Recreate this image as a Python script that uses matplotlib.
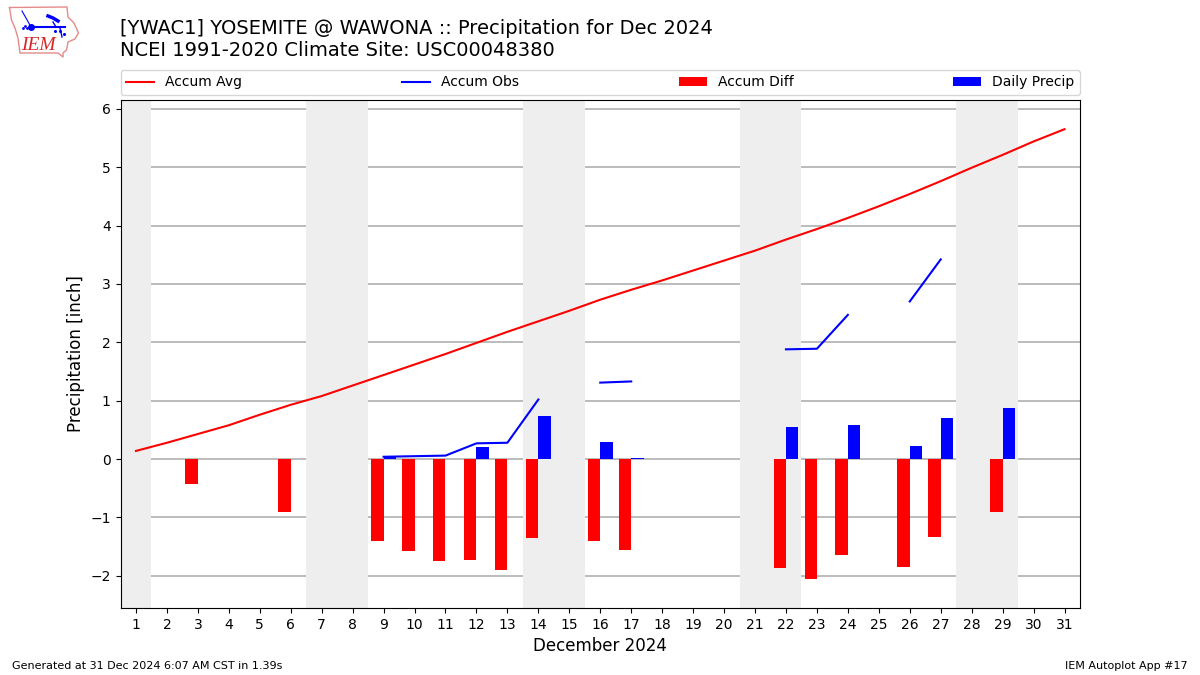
import numpy as np
import matplotlib
matplotlib.use("Agg")
import matplotlib.pyplot as plt

days = np.arange(1, 32)
nan = np.nan
accum_avg = [0.14, 0.28, 0.43, 0.58, 0.76, 0.93, 1.08, 1.26, 1.44, 1.62, 1.80,
             1.99, 2.18, 2.36, 2.54, 2.73, 2.90, 3.06, 3.23, 3.40, 3.57, 3.76,
             3.94, 4.13, 4.33, 4.54, 4.76, 4.99, 5.21, 5.44, 5.65]
accum_obs = [nan, nan, 0.00, nan, nan, 0.02, nan, nan, 0.04, 0.05, 0.06,
             0.27, 0.28, 1.02, nan, 1.31, 1.33, nan, nan, nan, nan, 1.88,
             1.89, 2.47, nan, 2.70, 3.42, nan, 4.30, nan, nan]
accum_diff = [nan, nan, -0.43, nan, nan, -0.91, nan, nan, -1.40, -1.58, -1.75,
              -1.73, -1.90, -1.35, nan, -1.41, -1.56, nan, nan, nan, nan, -1.87,
              -2.05, -1.65, nan, -1.84, -1.34, nan, -0.91, nan, nan]
daily_precip = [nan, nan, 0.01, nan, nan, 0.01, nan, nan, 0.04, 0.01, 0.01,
                0.21, 0.01, 0.73, nan, 0.30, 0.02, nan, nan, nan, nan, 0.55,
                0.01, 0.58, nan, 0.22, 0.71, nan, 0.88, nan, nan]
weekends = [(0.5, 1.5), (6.5, 8.5), (13.5, 15.5), (20.5, 22.5), (27.5, 29.5)]

W, H = 1200, 675
fig = plt.figure(figsize=(12, 6.75), dpi=100)
ax = fig.add_axes([120.5 / W, 1 - 608 / H, 959.5 / W, 508 / H])

for start, end in weekends:
    ax.axvspan(start, end, color="#eeeeee", lw=0, zorder=1)

ax.plot(days, accum_avg, color="r", label="Accum Avg", zorder=3)
ax.plot(days, accum_obs, color="b", label="Accum Obs", zorder=3)
ax.bar(days, accum_diff, width=-0.4, align="edge", color="r", label="Accum Diff", zorder=3)
ax.bar(days, daily_precip, width=0.4, align="edge", color="b", label="Daily Precip", zorder=3)

ax.set_xlim(0.5, 31.5)
ax.set_ylim(-2.55, 6.15)
ax.set_xticks(days)
ax.set_yticks(range(-2, 7))
ax.set_axisbelow(True)
ax.grid(axis="y", color="#b0b0b0", lw=1.2, zorder=2)
ax.set_xlabel("December 2024", fontsize=12)
ax.set_ylabel("Precipitation [inch]", fontsize=12)

ax.legend(loc="lower left", bbox_to_anchor=(0, 1.01, 1, 0.05), mode="expand",
          ncol=4, borderaxespad=0, fontsize=10)

fig.text(120 / W, 1 - 29 / H, "[YWAC1] YOSEMITE @ WAWONA :: Precipitation for Dec 2024",
         fontsize=14, va="center")
fig.text(120 / W, 1 - 51 / H, "NCEI 1991-2020 Climate Site: USC00048380",
         fontsize=14, va="center")
fig.text(12 / W, 1 - 666 / H, "Generated at 31 Dec 2024 6:07 AM CST in 1.39s",
         fontsize=8, va="center")
fig.text(1188 / W, 1 - 666 / H, "IEM Autoplot App #17", fontsize=8, va="center", ha="right")

# logo, drawn in pixels
logo = fig.add_axes([0, 1 - 60 / H, 90 / W, 60 / H])
logo.set_xlim(0, 90)
logo.set_ylim(60, 0)
logo.axis("off")
outline_x = [9.5, 67, 68, 74, 78.5, 75, 68, 66.5, 63, 63, 58, 20, 18, 15, 11.5, 9.5]
outline_y = [7.5, 7, 17, 23, 33, 39, 42, 50, 53, 57, 53, 53, 38, 28, 20, 7.5]
logo.plot(outline_x, outline_y, color="#e58a8a", lw=1)
logo.plot([31, 65], [27, 27], color="b", lw=1.5)
logo.plot([22, 26, 31], [11, 18, 27], color="b", lw=0.8)
logo.plot([31], [27], "o", color="b", ms=4)
logo.plot([48, 53, 58], [16, 18, 21], color="b", lw=2.5)
logo.plot([53, 56], [22, 27], color="b", lw=1)
logo.plot([60, 62], [28, 37], color="b", lw=1)
logo.plot([55, 60, 64], [31, 31, 34], "o", color="b", ms=1.2)
logo.plot([23, 25, 27], [28, 26, 28], "o", color="b", ms=1)
logo.text(21, 46, "IEM", color="#d62828", fontsize=14, family="Liberation Serif",
          style="italic", va="center")

fig.savefig("out.png", dpi=100)
